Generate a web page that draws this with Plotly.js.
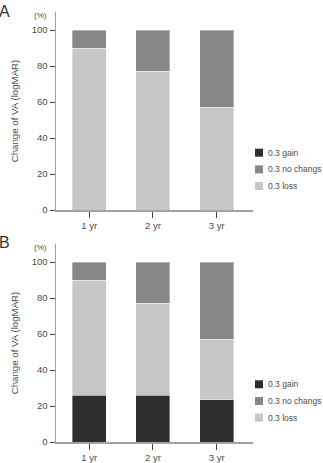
<!DOCTYPE html>
<html>
<head>
<meta charset="utf-8">
<script src="https://cdn.plot.ly/plotly-3.0.1.min.js"></script>
<style>
  html, body { margin: 0; padding: 0; background: #fff; }
  #chart { width: 323px; height: 463px; }
</style>
</head>
<body>
<div id="chart"></div>
<script>
// Follow-up years
const years = ['1 yr', '2 yr', '3 yr'];

// Series names (legend) and fills
const seriesNames = ['0.3 gain', '0.3 no changs', '0.3 loss'];
const seriesColors = ['#2e2e31', '#878787', '#c7c7c7'];

// Panel A: share of eyes (%) per category
const gainA = [0, 0, 0];
const lossA = [90, 77, 57];
const noChangeA = [10, 23, 43];

// Panel B: share of eyes (%) per category
const gainB = [26, 26, 23.5];
const lossB = [64, 51, 33.5];
const noChangeB = [10, 23, 43];

const yTicks = [0, 20, 40, 60, 80, 100];

const font = 'Liberation Sans, Arial, sans-serif';
const textColor = '#4c4c4c';
const W = 323, H = 463;
const px = v => v / W;
const py = v => 1 - v / H;

function bar(y, idx, xa, ya) {
  return {
    type: 'bar', x: years, y: y, name: seriesNames[idx],
    xaxis: xa, yaxis: ya, width: 0.535,
    marker: { color: seriesColors[idx], line: { color: 'rgba(255,255,255,0.6)', width: 0.6 } },
    showlegend: false, hoverinfo: 'x+y+name'
  };
}

const data = [
  bar(gainA, 0, 'x', 'y'), bar(lossA, 2, 'x', 'y'), bar(noChangeA, 1, 'x', 'y'),
  bar(gainB, 0, 'x2', 'y2'), bar(lossB, 2, 'x2', 'y2'), bar(noChangeB, 1, 'x2', 'y2')
];

function xAxis(anchor) {
  return {
    anchor: anchor, domain: [px(56), px(253)], type: 'category',
    range: [-0.52, 2.57], showline: true, linecolor: '#a2a2a2', linewidth: 1.5,
    ticks: 'outside', ticklen: 6, tickcolor: '#444', tickwidth: 1,
    showgrid: false, zeroline: false, fixedrange: true,
    tickfont: { family: font, size: 9.5, color: textColor }
  };
}
function yAxis(anchor, top, bottom) {
  return {
    anchor: anchor, domain: [py(bottom), py(top)], range: [0, 110],
    tickvals: yTicks, ticktext: yTicks.map(String),
    showline: true, linecolor: '#a2a2a2', linewidth: 1.5,
    ticks: 'outside', ticklen: 5, tickcolor: '#444', tickwidth: 1,
    showgrid: false, zeroline: false, fixedrange: true,
    tickfont: { family: font, size: 9.5, color: textColor },
    title: { text: 'Change of VA (logMAR)', standoff: 11,
             font: { family: font, size: 9.7, color: textColor } }
  };
}

// Hand-placed legend blocks (one per panel)
const shapes = [];
const annotations = [];
function legendBlock(firstRowY) {
  seriesNames.forEach((name, i) => {
    const cy = firstRowY + i * 16.7;
    shapes.push({ type: 'rect', xref: 'paper', yref: 'paper',
      x0: px(255), x1: px(263), y0: py(cy + 4), y1: py(cy - 4),
      fillcolor: seriesColors[i], line: { width: 0 } });
    annotations.push({ xref: 'paper', yref: 'paper', x: px(266), y: py(cy),
      xanchor: 'left', yanchor: 'middle', showarrow: false, text: name,
      font: { family: font, size: 8.5, color: textColor } });
  });
}
legendBlock(152.7);
legendBlock(384.3);

// Panel letters and unit labels
[['A', 1], ['B', 232]].forEach(([t, y]) => annotations.push({
  xref: 'paper', yref: 'paper', x: px(-3), y: py(y), xanchor: 'left', yanchor: 'top',
  showarrow: false, text: t, font: { family: font, size: 16, color: '#333' }
}));
[16, 247].forEach(y => annotations.push({
  xref: 'paper', yref: 'paper', x: px(40), y: py(y), xanchor: 'center', yanchor: 'middle',
  showarrow: false, text: '(%)', font: { family: font, size: 8, color: textColor }
}));

const layout = {
  width: W, height: H,
  margin: { l: 0, r: 0, t: 0, b: 0 },
  paper_bgcolor: '#fff', plot_bgcolor: '#fff',
  barmode: 'stack', bargap: 0.45,
  showlegend: false,
  xaxis: xAxis('y'), yaxis: yAxis('x', 12, 210),
  xaxis2: xAxis('y2'), yaxis2: yAxis('x2', 244, 442),
  shapes: shapes, annotations: annotations
};

Plotly.newPlot('chart', data, layout, { displayModeBar: false, staticPlot: true });
</script>
</body>
</html>
